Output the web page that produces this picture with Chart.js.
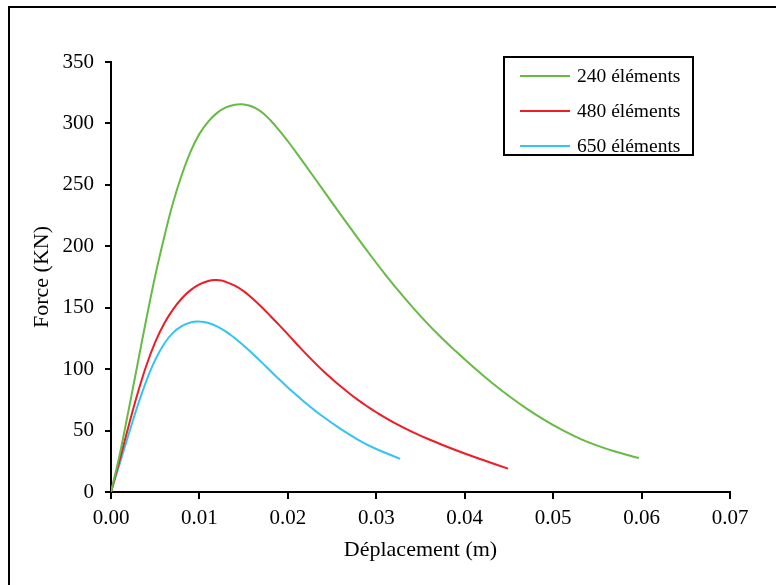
<!DOCTYPE html>
<html>
<head>
<meta charset="utf-8">
<script src="https://cdn.jsdelivr.net/npm/chart.js@4/dist/chart.umd.min.js"></script>
<style>
  html, body { margin: 0; padding: 0; background: #fff; overflow: hidden; }
  #wrap { position: relative; width: 776px; height: 585px; }
  #frame { position: absolute; left: 8px; top: 6px; width: 820px; height: 700px;
           border: 2px solid #000; box-sizing: border-box; pointer-events: none; }
  canvas { position: absolute; left: 0; top: 0; }
</style>
</head>
<body>
<div id="wrap">
  <div id="frame"></div>
  <canvas id="c" width="776" height="585"></canvas>
</div>
<script>
// Force–displacement curves for three mesh densities
const seriesLabels = ['240 éléments', '480 éléments', '650 éléments'];

const disp240 = [0, 0.001, 0.002, 0.003, 0.004, 0.005, 0.006, 0.007, 0.008, 0.009, 0.010, 0.011, 0.012, 0.013, 0.014, 0.0148,
                 0.0156, 0.0164, 0.0172, 0.018, 0.019, 0.020, 0.021, 0.023, 0.025, 0.027, 0.029, 0.031, 0.033, 0.035, 0.037, 0.039,
                 0.041, 0.043, 0.045, 0.047, 0.049, 0.051, 0.053, 0.055, 0.057, 0.059, 0.0597];
const force240 = [0, 31, 67, 104, 141, 176, 207, 235, 258, 277, 291.5, 301.5, 308.6, 313, 315.2, 315.6,
                  314.6, 312.2, 308.3, 302.8, 294.6, 285.5, 275.8, 255.8, 235.6, 215.6, 196, 177.2, 159.6, 143.2, 128.2, 114.5,
                  101.5, 89.3, 78.1, 67.9, 58.7, 50.5, 43.5, 37.7, 32.9, 28.9, 27.6];

const disp480 = [0, 0.001, 0.002, 0.003, 0.004, 0.005, 0.006, 0.007, 0.008, 0.009, 0.010, 0.011, 0.0118, 0.0125, 0.013, 0.014, 0.015,
                 0.016, 0.017, 0.018, 0.019, 0.020, 0.021, 0.022, 0.023, 0.024, 0.025, 0.026, 0.027, 0.028, 0.029, 0.030,
                 0.032, 0.034, 0.036, 0.038, 0.040, 0.042, 0.0449];
const force480 = [0, 26.5, 54, 80, 103, 122, 137, 148.5, 157.5, 164.3, 169, 171.8, 172.5, 172.2, 171, 168, 163.5,
                  157.5, 150.8, 143.5, 136, 128.3, 120.5, 112.8, 105.5, 98.5, 92, 85.8, 80, 74.6, 69.6, 64.9,
                  56.5, 49.2, 42.7, 36.8, 31.3, 26.2, 19];

const disp650 = [0, 0.001, 0.002, 0.003, 0.004, 0.005, 0.006, 0.007, 0.008, 0.009, 0.0098, 0.0105, 0.0115, 0.0125, 0.0135, 0.0145,
                 0.0155, 0.0165, 0.0175, 0.0185, 0.0195, 0.0205, 0.022, 0.024, 0.026, 0.028, 0.030, 0.0327];
const force650 = [0, 23.5, 47, 70, 90.5, 107.5, 120.5, 129.5, 135, 138, 138.7, 138.3, 136.3, 132.8, 128, 122.3,
                  116, 109.3, 102.3, 95.3, 88.5, 81.8, 72.5, 61.2, 51.2, 42.3, 35, 27];

const xTicks = [0, 0.01, 0.02, 0.03, 0.04, 0.05, 0.06, 0.07];
const yTicks = [0, 50, 100, 150, 200, 250, 300, 350];

const colors = ['#66BB44', '#EE1C25', '#33C4F2'];

function toPoints(xs, ys) {
  return xs.map((x, i) => ({ x: x, y: ys[i] }));
}

const seriesData = [
  toPoints(disp240, force240),
  toPoints(disp480, force480),
  toPoints(disp650, force650)
];

const serif = '"Liberation Serif", "Times New Roman", serif';

// Boxed legend drawn inside the plot area, top right
const boxLegend = {
  id: 'boxLegend',
  afterDraw(chart) {
    const ctx = chart.ctx;
    const left = 504, top = 57, w = 189, h = 98;
    ctx.save();
    ctx.lineWidth = 2;
    ctx.strokeStyle = '#000';
    ctx.strokeRect(left, top, w, h);
    ctx.font = '19.5px ' + serif;
    ctx.textBaseline = 'middle';
    ctx.fillStyle = '#000';
    chart.data.datasets.forEach((ds, i) => {
      const y = 76 + i * 35;
      ctx.beginPath();
      ctx.strokeStyle = ds.borderColor;
      ctx.lineWidth = 2;
      ctx.moveTo(520, y);
      ctx.lineTo(570, y);
      ctx.stroke();
      ctx.fillText(ds.label, 577, y + 1);
    });
    ctx.restore();
  }
};

new Chart(document.getElementById('c'), {
  type: 'scatter',
  data: {
    datasets: seriesData.map((pts, i) => ({
      label: seriesLabels[i],
      data: pts,
      showLine: true,
      borderColor: colors[i],
      backgroundColor: colors[i],
      borderWidth: 2,
      pointRadius: 0,
      tension: 0.4,
      fill: false
    }))
  },
  options: {
    responsive: false,
    animation: false,
    layout: { padding: { left: 0, top: 62, right: 46, bottom: 0 } },
    plugins: {
      legend: { display: false },
      tooltip: { enabled: false }
    },
    scales: {
      x: {
        type: 'linear',
        min: 0,
        max: 0.07,
        afterFit(scale) { scale.height = 93; },
        afterBuildTicks(scale) { scale.ticks = xTicks.map(v => ({ value: v })); },
        border: { display: true, color: '#000', width: 2 },
        grid: { drawOnChartArea: false, drawTicks: true, tickLength: 7, color: '#000', lineWidth: 2 },
        ticks: {
          color: '#000',
          padding: 7,
          maxRotation: 0,
          font: { family: serif, size: 21 },
          callback: v => v.toFixed(2)
        },
        title: {
          display: true,
          text: 'Déplacement (m)',
          color: '#000',
          font: { family: serif, size: 22 },
          padding: { top: 0, bottom: 22 }
        }
      },
      y: {
        type: 'linear',
        min: 0,
        max: 350,
        afterFit(scale) { scale.width = 111; },
        afterBuildTicks(scale) { scale.ticks = yTicks.map(v => ({ value: v })); },
        border: { display: true, color: '#000', width: 2 },
        grid: { drawOnChartArea: false, drawTicks: true, tickLength: 6, color: '#000', lineWidth: 2 },
        ticks: {
          color: '#000',
          padding: 11,
          font: { family: serif, size: 21 }
        },
        title: {
          display: true,
          text: 'Force (KN)',
          color: '#000',
          font: { family: serif, size: 22 },
          padding: { top: 29, bottom: 0 }
        }
      }
    }
  },
  plugins: [boxLegend]
});
</script>
</body>
</html>
